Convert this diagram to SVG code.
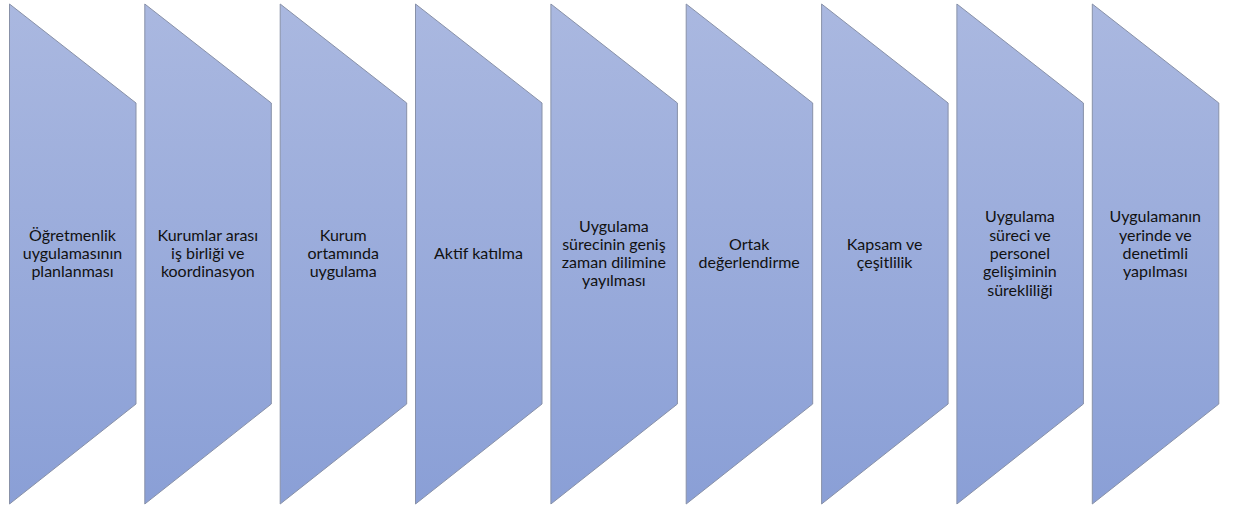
<svg xmlns="http://www.w3.org/2000/svg" width="1237" height="507" viewBox="0 0 1237 507">
<defs>
<linearGradient id="g" x1="0" y1="0" x2="0" y2="1">
<stop offset="0" stop-color="#AAB8E0"/>
<stop offset="1" stop-color="#8A9FD6"/>
</linearGradient>
<path id="shp" d="M0,0 L126.5,99 L126.5,400 L0,500 Z"/>
</defs>
<style>
.s{fill:url(#g);stroke:#8891A8;stroke-width:1}
.t{font-family:Lato,"Open Sans","Liberation Sans",sans-serif;font-size:16px;fill:#111;text-anchor:middle}
</style>
<rect width="1237" height="507" fill="#fff"/>
<g id="n1" transform="translate(9.5,4)"><use href="#shp" class="s"/><text class="t" x="63" y="236.7">Öğretmenlik</text><text class="t" x="63" y="255">uygulamasının</text><text class="t" x="63" y="273.3">planlanması</text></g>
<g id="n2" transform="translate(144.8,4)"><use href="#shp" class="s"/><text class="t" x="63" y="236.7">Kurumlar arası</text><text class="t" x="63" y="255">iş birliği ve</text><text class="t" x="63" y="273.3">koordinasyon</text></g>
<g id="n3" transform="translate(280.2,4)"><use href="#shp" class="s"/><text class="t" x="63" y="236.7">Kurum</text><text class="t" x="63" y="255">ortamında</text><text class="t" x="63" y="273.3">uygulama</text></g>
<g id="n4" transform="translate(415.5,4)"><use href="#shp" class="s"/><text class="t" x="63" y="255">Aktif katılma</text></g>
<g id="n5" transform="translate(550.9,4)"><use href="#shp" class="s"/><text class="t" x="63" y="227.55">Uygulama</text><text class="t" x="63" y="245.85">sürecinin geniş</text><text class="t" x="63" y="264.15">zaman dilimine</text><text class="t" x="63" y="282.45">yayılması</text></g>
<g id="n6" transform="translate(686.2,4)"><use href="#shp" class="s"/><text class="t" x="63" y="245.85">Ortak</text><text class="t" x="63" y="264.15">değerlendirme</text></g>
<g id="n7" transform="translate(821.6,4)"><use href="#shp" class="s"/><text class="t" x="63" y="245.85">Kapsam ve</text><text class="t" x="63" y="264.15">çeşitlilik</text></g>
<g id="n8" transform="translate(956.9,4)"><use href="#shp" class="s"/><text class="t" x="63" y="218.4">Uygulama</text><text class="t" x="63" y="236.7">süreci ve</text><text class="t" x="63" y="255">personel</text><text class="t" x="63" y="273.3">gelişiminin</text><text class="t" x="63" y="291.6">sürekliliği</text></g>
<g id="n9" transform="translate(1092.3,4)"><use href="#shp" class="s"/><text class="t" x="63" y="218.4">Uygulamanın</text><text class="t" x="63" y="236.7">yerinde ve</text><text class="t" x="63" y="255">denetimli</text><text class="t" x="63" y="273.3">yapılması</text></g>
<g id="connectors"/>
</svg>
